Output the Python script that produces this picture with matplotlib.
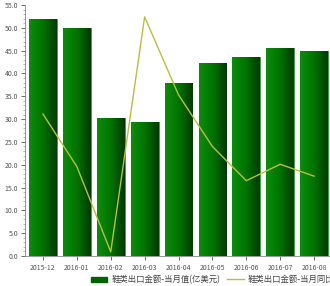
import numpy as np
import matplotlib
matplotlib.use('Agg')
import matplotlib.pyplot as plt
from matplotlib.colors import LinearSegmentedColormap
from matplotlib.lines import Line2D
from matplotlib.patches import Rectangle

plt.rcParams['font.family'] = ['Noto Sans CJK SC', 'DejaVu Sans']

# data
months = ['2015-12', '2016-01', '2016-02', '2016-03', '2016-04',
          '2016-05', '2016-06', '2016-07', '2016-08']
value = [52.0, 49.9, 30.2, 29.3, 37.9, 42.4, 43.6, 45.6, 45.0]
yoy = [31.1, 19.6, 0.9, 52.4, 35.3, 24.0, 16.5, 20.1, 17.5]
label_value = '鞋类出口金额-当月值(亿美元)'
label_yoy = '鞋类出口金额-当月同比'

fig = plt.figure(figsize=(3.3, 2.86), dpi=100)
ax = fig.add_axes([25 / 330, 30 / 286, 305 / 330, 251 / 286])

x = np.arange(len(months))
bars = ax.bar(x, value, width=0.82, color='#007000', edgecolor='#3a9a3a',
              linewidth=0.6, zorder=2)

# horizontal gradient inside each bar
green = LinearSegmentedColormap.from_list('g', ['#0c8c0c', '#007400', '#003a00'])
grad = np.linspace(0, 1, 64).reshape(1, -1)
for b in bars:
    x0, w, h = b.get_x(), b.get_width(), b.get_height()
    im = ax.imshow(grad, extent=[x0, x0 + w, 0, h], aspect='auto',
                   cmap=green, zorder=2.5, interpolation='bilinear')
    im.set_clip_path(b)

ax.plot(x, yoy, color='#bdbd3c', linewidth=1.0, zorder=3)

ax.set_xlim(-0.53, 8.47)
ax.set_ylim(0, 55)
ax.set_yticks(np.arange(0, 56, 5))
ax.set_yticklabels([f'{v:.1f}' for v in np.arange(0, 56, 5)])
ax.set_yticks(np.arange(0, 56, 1), minor=True)
ax.set_xticks(x)
ax.set_xticklabels(months)
ax.tick_params(axis='both', labelsize=5, colors='#555555', length=3, width=0.6)
ax.tick_params(axis='y', which='minor', length=1.5, width=0.4, colors='#888888')
ax.tick_params(axis='x', pad=3)
ax.tick_params(axis='y', pad=2)

for s in ['top', 'right']:
    ax.spines[s].set_visible(False)
ax.spines['left'].set_color('#888888')
ax.spines['bottom'].set_color('#888888')
ax.spines['left'].set_linewidth(0.6)
ax.spines['bottom'].set_linewidth(0.6)

handles = [Rectangle((0, 0), 1, 1, color='#006400'),
           Line2D([0], [0], color='#bdbd3c', linewidth=1.0)]
fig.legend(handles, [label_value, label_yoy], loc='lower left',
           bbox_to_anchor=(83 / 330, -0.02), ncol=2, frameon=False,
           fontsize=6, handlelength=2.0, handleheight=0.6, columnspacing=0.8,
           handletextpad=0.5, labelcolor='#444444')

fig.savefig('out.png', dpi=100)
